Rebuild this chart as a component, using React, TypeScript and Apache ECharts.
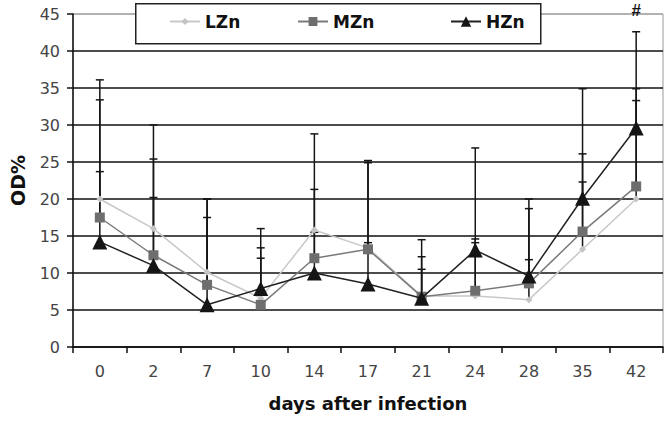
import React, { useEffect, useRef } from "react";
import * as echarts from "echarts";

const days = ["0", "2", "7", "10", "14", "17", "21", "24", "28", "35", "42"];
const lznMean = [20.0, 16.0, 10.1, 6.6, 15.8, 13.4, 6.9, 6.9, 6.4, 13.2, 20.0];
const mznMean = [17.5, 12.4, 8.4, 5.7, 12.0, 13.2, 6.8, 7.6, 8.6, 15.6, 21.7];
const hznMean = [14.2, 11.0, 5.7, 7.9, 10.0, 8.5, 6.6, 13.1, 9.6, 20.1, 29.6];
const lznTop = [36.1, 30.0, 20.0, 16.0, 28.8, 25.2, 14.5, 26.9, 20.0, 34.9, 42.6];
const mznTop = [33.4, 25.4, 17.5, 13.4, 21.3, 24.9, 12.2, 14.6, 18.7, 26.1, 34.9];
const hznTop = [23.7, 20.2, 20.0, 12.0, 15.5, 14.1, 10.5, 14.1, 11.8, 22.3, 33.3];
const yTicks = { min: 0, max: 45, interval: 5 };
const markText = "#";
const markDay = "42";

const FONT = "DejaVu Sans";

function errSeries(name: string, means: number[], tops: number[]) {
  return {
    type: "custom",
    name,
    z: 1,
    encode: { x: 0, y: 1 },
    data: means.map((m, i) => [i, m, tops[i]]),
    renderItem: (params: any, api: any) => {
      const x = api.value(0);
      const p1 = api.coord([x, api.value(1)]);
      const p2 = api.coord([x, api.value(2)]);
      const w = 8;
      return {
        type: "group",
        children: [
          {
            type: "line",
            shape: { x1: p1[0], y1: p1[1], x2: p2[0], y2: p2[1] },
            style: { stroke: "#151515", lineWidth: 1.5 },
          },
          {
            type: "line",
            shape: { x1: p2[0] - w / 2, y1: p2[1], x2: p2[0] + w / 2, y2: p2[1] },
            style: { stroke: "#151515", lineWidth: 1.5 },
          },
        ],
      };
    },
  };
}

export default function App() {
  const ref = useRef<HTMLDivElement>(null);
  useEffect(() => {
    document.body.style.margin = "0";
    const chart = echarts.init(ref.current!, null, { renderer: "svg" });
    const legendText = { fontFamily: FONT, fontWeight: "bold", fontSize: 17, color: "#111" };
    const boxRect = {
      type: "rect",
      id: "legendBox",
      left: 135,
      top: 3,
      z: 3,
      shape: { width: 405, height: 40 },
      style: { fill: "#fff", stroke: "#222", lineWidth: 1.5 },
    };
    chart.setOption({
      animation: false,
      backgroundColor: "#fff",
      grid: { left: 66, right: 3, top: 14, bottom: 74, show: true, borderColor: "#999", borderWidth: 1 },
      graphic: [boxRect],
      legend: [
        { data: ["LZn"], left: 169, top: 13, padding: 0, itemWidth: 30, itemHeight: 9, textStyle: legendText, z: 5 },
        { data: ["MZn"], left: 297, top: 13, padding: 0, itemWidth: 30, itemHeight: 11, textStyle: legendText, z: 5 },
        { data: ["HZn"], left: 450, top: 13, padding: 0, itemWidth: 30, itemHeight: 13, textStyle: legendText, z: 5 },
      ],
      xAxis: {
        type: "category",
        data: days,
        boundaryGap: true,
        name: "days after infection",
        nameLocation: "middle",
        nameGap: 47,
        nameTextStyle: { fontFamily: FONT, fontWeight: "bold", fontSize: 18, color: "#111" },
        axisLine: { lineStyle: { color: "#111", width: 1.5 } },
        axisTick: { show: true, length: 6, lineStyle: { color: "#111", width: 1.5 } },
        axisLabel: { fontFamily: FONT, fontSize: 16, color: "#444", margin: 16 },
        splitLine: { show: false },
      },
      yAxis: {
        type: "value",
        min: yTicks.min,
        max: yTicks.max,
        interval: yTicks.interval,
        name: "OD%",
        nameLocation: "middle",
        nameRotate: 90,
        nameGap: 46,
        nameTextStyle: { fontFamily: FONT, fontWeight: "bold", fontSize: 19, color: "#111" },
        axisLine: { show: true, lineStyle: { color: "#111", width: 1.5 } },
        axisTick: { show: true, length: 6, lineStyle: { color: "#111", width: 1.5 } },
        axisLabel: { fontFamily: FONT, fontSize: 16, color: "#444", margin: 13 },
        splitLine: {
          show: true,
          lineStyle: {
            width: 1.5,
            color: ["#111", "#111", "#111", "#111", "#111", "#111", "#111", "#111", "#111", "#aaa"],
          },
        },
      },
      series: [
        errSeries("LZn err", lznMean, lznTop),
        errSeries("MZn err", mznMean, mznTop),
        errSeries("HZn err", hznMean, hznTop),
        {
          type: "line",
          name: "LZn",
          data: lznMean,
          z: 3,
          symbol: "diamond",
          symbolSize: 7,
          itemStyle: { color: "#c4c4c4" },
          lineStyle: { color: "#c8c8c8", width: 1.5 },
        },
        {
          type: "line",
          name: "MZn",
          data: mznMean,
          z: 4,
          symbol: "rect",
          symbolSize: 10,
          itemStyle: { color: "#6e6e6e" },
          lineStyle: { color: "#7a7a7a", width: 1.5 },
        },
        {
          type: "line",
          name: "HZn",
          data: hznMean,
          z: 5,
          symbol: "triangle",
          symbolSize: 15,
          itemStyle: { color: "#151515" },
          lineStyle: { color: "#222", width: 1.5 },
        },
      ],
    });
    const p = chart.convertToPixel({ gridIndex: 0 }, [markDay, yTicks.max]) as number[];
    chart.setOption({
      graphic: [
        boxRect,
        {
          type: "text",
          id: "mark",
          x: p[0],
          y: p[1] - 4,
          z: 6,
          style: {
            text: markText,
            x: 0,
            y: 0,
            align: "center",
            verticalAlign: "middle",
            fontFamily: "Liberation Sans",
            fontWeight: "bold",
            fontSize: 17,
            fill: "#111",
          },
        },
      ],
    });
    return () => chart.dispose();
  }, []);
  return <div ref={ref} style={{ width: 666, height: 421 }} />;
}
